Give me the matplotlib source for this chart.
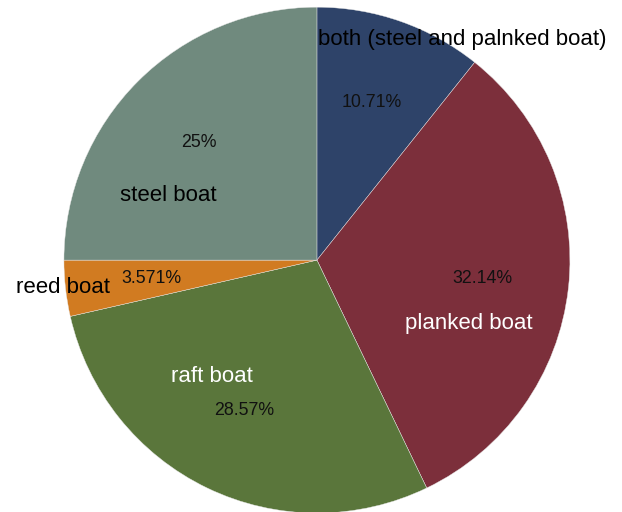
import numpy as np
import matplotlib.pyplot as plt

plt.rcParams['font.family'] = ['Liberation Sans', 'DejaVu Sans']

# boat types, clockwise from the top
boat_types = ["both (steel and palnked boat)", "planked boat", "raft boat",
              "reed boat", "steel boat"]
counts = [3, 9, 8, 1, 7]
colors = ["#2e4369", "#7c2f3b", "#5a763b", "#d17b21", "#708a7e"]
name_colors = ["black", "white", "white", "black", "black"]

# where each category name sits: radius and angle shift from the wedge middle
name_r = [1.045, 0.65, 0.62, 1.01, 0.64]
name_shift = [-14.0, -16.1, -16.2, -0.3, 21.4]

fig = plt.figure(figsize=(6.22, 5.12), dpi=100)
ax = fig.add_axes([0.1028, -0.002, 0.8135, 0.988])

wedges, _ = ax.pie(counts, colors=colors, startangle=90, counterclock=False,
                   radius=1.0, wedgeprops=dict(edgecolor="#e8e8e8", linewidth=0.3))
ax.set_xlim(-1, 1)
ax.set_ylim(-1, 1)
ax.set_aspect("auto")
ax.axis("off")

total = sum(counts)
for i, w in enumerate(wedges):
    mid = (w.theta1 + w.theta2) / 2.0
    pct = counts[i] / total * 100
    t = np.deg2rad(mid)
    ax.text(0.66 * np.cos(t), 0.66 * np.sin(t), "{:.4g}%".format(pct),
            ha="center", va="center", fontsize=12.8, color="#111111")
    a = np.deg2rad(mid + name_shift[i])
    ax.text(name_r[i] * np.cos(a), name_r[i] * np.sin(a), boat_types[i],
            ha="center", va="center", fontsize=16, color=name_colors[i],
            clip_on=False)

fig.savefig("out.png", dpi=100)
